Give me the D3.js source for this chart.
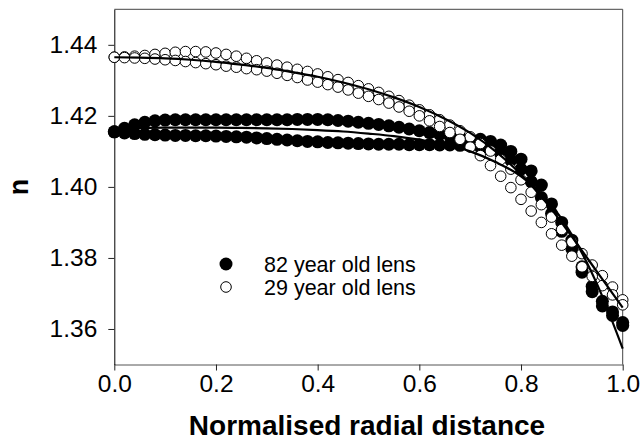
<!DOCTYPE html>
<html><head><meta charset="utf-8">
<script src="https://cdn.jsdelivr.net/npm/d3@7"></script>
<style>body{margin:0;background:#fff}svg{display:block}text{font-family:"Liberation Sans",Arial,Helvetica,sans-serif}</style>
</head><body><svg id="c" width="642" height="442"></svg>
<script>
// radial positions of the measurements
const radial = [0,0.02,0.04,0.06,0.08,0.10,0.12,0.14,0.16,0.18,0.20,0.22,0.24,0.26,0.28,0.30,0.32,0.34,0.36,0.38,0.40,0.42,0.44,0.46,0.48,0.50,0.52,0.54,0.56,0.58,0.60,0.62,0.64,0.66,0.68,0.70,0.72,0.74,0.76,0.78,0.80,0.82,0.84,0.86,0.88,0.90,0.92,0.94,0.96,0.98,1.00];
// 82 year old lens, two measured halves
const old82a = [1.4155,1.4165,1.4175,1.4182,1.4186,1.4188,1.4189,1.4189,1.4189,1.4189,1.4189,1.4189,1.4189,1.4189,1.4189,1.4189,1.4189,1.4189,1.4190,1.4190,1.4190,1.4189,1.4187,1.4185,1.4182,1.4179,1.4176,1.4172,1.4168,1.4163,1.4158,1.4153,1.4148,1.4143,1.4139,1.4136,1.4134,1.4128,1.4118,1.4100,1.4078,1.4045,1.4005,1.3952,1.3900,1.3850,1.3775,1.3720,1.3678,1.3648,1.3618];
const old82b = [1.4155,1.4152,1.4150,1.4148,1.4147,1.4146,1.4145,1.4145,1.4144,1.4144,1.4143,1.4142,1.4141,1.4140,1.4138,1.4136,1.4134,1.4132,1.4130,1.4128,1.4127,1.4125,1.4124,1.4123,1.4122,1.4121,1.4120,1.4120,1.4120,1.4119,1.4119,1.4119,1.4118,1.4118,1.4117,1.4116,1.4112,1.4105,1.4093,1.4075,1.4050,1.4015,1.3970,1.3925,1.3875,1.3825,1.3760,1.3705,1.3665,1.3638,1.3610];
// 29 year old lens, two measured halves
const young29a = [1.4365,1.4366,1.4368,1.4370,1.4373,1.4376,1.4379,1.4381,1.4381,1.4380,1.4377,1.4373,1.4368,1.4362,1.4355,1.4349,1.4343,1.4337,1.4331,1.4325,1.4318,1.4310,1.4302,1.4294,1.4285,1.4276,1.4266,1.4255,1.4243,1.4230,1.4217,1.4203,1.4189,1.4174,1.4158,1.4141,1.4122,1.4101,1.4077,1.4050,1.4020,1.3985,1.3950,1.3915,1.3880,1.3845,1.3812,1.3780,1.3750,1.3718,1.3682];
const young29b = [1.4365,1.4364,1.4363,1.4362,1.4360,1.4358,1.4356,1.4353,1.4350,1.4347,1.4344,1.4340,1.4337,1.4333,1.4330,1.4326,1.4320,1.4314,1.4308,1.4301,1.4295,1.4288,1.4281,1.4273,1.4264,1.4255,1.4246,1.4236,1.4225,1.4213,1.4200,1.4186,1.4170,1.4153,1.4134,1.4112,1.4088,1.4060,1.4030,1.3998,1.3965,1.3932,1.3900,1.3868,1.3836,1.3805,1.3775,1.3748,1.3722,1.3696,1.3668];
// fitted curves
const fitX = [0,0.05,0.10,0.15,0.20,0.25,0.30,0.35,0.40,0.45,0.50,0.55,0.60,0.65,0.70,0.75,0.80,0.85,0.90,0.95,1.00];
const fit82 = [1.4165,1.4166,1.4167,1.4167,1.4167,1.4166,1.4165,1.4163,1.4160,1.4156,1.4150,1.4143,1.4133,1.4120,1.4100,1.4070,1.4030,1.3965,1.3865,1.3725,1.3545];
const fit29 = [1.4365,1.4364,1.4362,1.4358,1.4352,1.4344,1.4335,1.4323,1.4310,1.4294,1.4275,1.4252,1.4225,1.4192,1.4152,1.4100,1.4035,1.3955,1.3860,1.3760,1.3660];
const xTicks = [0,0.2,0.4,0.6,0.8,1.0];
const yTicks = [1.36,1.38,1.40,1.42,1.44];
const legendLabels = ["82 year old lens","29 year old lens"];

const L = 114.3, T = 9.3, W = 508.4, H = 355.2;
const svg = d3.select("#c");
svg.append("rect").attr("width",642).attr("height",442).attr("fill","#fff");
const x = d3.scaleLinear().domain([0,1]).range([L, L+W]);
const y = d3.scaleLinear().domain([1.35,1.45]).range([T+H, T]);

// frame
svg.append("line").attr("x1",L).attr("x2",L+W).attr("y1",T).attr("y2",T).attr("stroke","#444");
svg.append("line").attr("x1",L+W).attr("x2",L+W).attr("y1",T).attr("y2",T+H).attr("stroke","#444");

const gx = svg.append("g").attr("transform",`translate(0,${T+H})`)
  .call(d3.axisBottom(x).tickValues(xTicks).tickFormat(d3.format(".1f")).tickSize(6).tickSizeOuter(0).tickPadding(4));
gx.selectAll("text").attr("font-size",24.5).attr("fill","#000");
gx.select(".domain").attr("stroke","#555");
gx.selectAll(".tick line").attr("stroke","#222");
const gy = svg.append("g").attr("transform",`translate(${L},0)`)
  .call(d3.axisLeft(y).tickValues(yTicks).tickFormat(d3.format(".2f")).tickSize(6).tickSizeOuter(0).tickPadding(11));
gy.selectAll("text").attr("font-size",24.5).attr("fill","#000");
gy.select(".domain").attr("stroke","#000");
gy.selectAll(".tick line").attr("stroke","#222");
svg.selectAll(".tick text").attr("font-family",'"Liberation Sans",Arial,sans-serif');

svg.append("text").attr("x",367).attr("y",435).attr("text-anchor","middle")
  .attr("font-size",28).attr("font-weight","bold").text("Normalised radial distance");
svg.append("text").attr("transform","translate(28,187) rotate(-90)").attr("text-anchor","middle")
  .attr("font-size",27).attr("font-weight","bold").text("n");

const plot = svg.append("g");
const filledR = 6.5, openR = 5.3;
[old82a, old82b].forEach(s => {
  plot.append("g").selectAll("circle").data(radial).join("circle")
    .attr("cx", d => x(d)).attr("cy", (d,i) => y(s[i])).attr("r", filledR).attr("fill","#000");
});
[young29a, young29b].forEach(s => {
  plot.append("g").selectAll("circle").data(radial).join("circle")
    .attr("cx", d => x(d)).attr("cy", (d,i) => y(s[i])).attr("r", openR)
    .attr("fill","#fff").attr("stroke","#000").attr("stroke-width",1);
});
const line = d3.line().x(d => x(d[0])).y(d => y(d[1])).curve(d3.curveMonotoneX);
[fit82, fit29].forEach(f => {
  plot.append("path").attr("d", line(fitX.map((v,i)=>[v,f[i]])))
    .attr("fill","none").attr("stroke","#000").attr("stroke-width",2.2);
});

// legend
const lg = svg.append("g");
legendLabels.forEach((t,i) => {
  const cy = 264 + i*23;
  lg.append("circle").attr("cx",226).attr("cy",cy).attr("r", i===0 ? 6.5 : 5.3)
    .attr("fill", i===0 ? "#000" : "#fff").attr("stroke","#000").attr("stroke-width", i===0 ? 0 : 1);
  lg.append("text").attr("x",264).attr("y",cy+8).attr("font-size",21.5).text(t);
});
</script></body></html>
